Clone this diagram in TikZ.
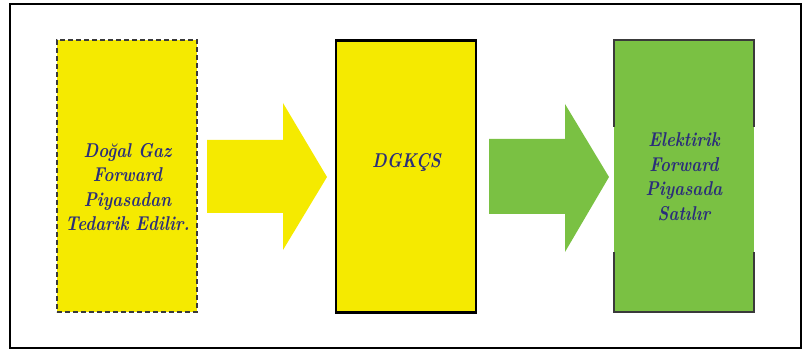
\documentclass[tikz,border=0pt]{standalone}
\usepackage{fontspec}
\usepackage{graphicx}
\usetikzlibrary{calc}
\definecolor{boxyellow}{HTML}{F5EA00}
\definecolor{boxgreen}{HTML}{7AC143}
\definecolor{txtblue}{HTML}{2B2E7A}
\definecolor{edgegray}{HTML}{3A3A3A}
\newcommand{\lbltext}[1]{\scalebox{0.84}[1]{\begin{tabular}{@{}c@{}}#1\end{tabular}}}
\begin{document}
\begin{tikzpicture}[x=1pt,y=-1pt,
  lbl/.style={font=\fontsize{20}{24.5}\selectfont\bfseries\itshape, text=txtblue, align=center, inner sep=0pt},
  stagebox/.style={minimum width=140pt, minimum height=272pt, inner sep=0pt},
  gedge/.style={draw=edgegray, line width=2pt}
]
\useasboundingbox (0,0) rectangle (807,350);
% outer frame
\draw[line width=2pt] (10,4) rectangle (801,348);
% boxes
\node[stagebox, fill=boxyellow, draw=edgegray, line width=2pt, dash pattern=on 5pt off 3pt] (src) at (126.5,176) {};
\node[stagebox, fill=boxyellow, draw=black, line width=2.4pt] (mid) at (406,176.5) {};
\node[stagebox, fill=boxgreen] (dst) at (684,176) {};
\draw[gedge] ($(dst.north west)+(0,87)$) -- (dst.north west) -- (dst.north east) -- ($(dst.north east)+(0,87)$);
\draw[gedge] ($(dst.south west)+(0,-60)$) -- (dst.south west) -- (dst.south east) -- ($(dst.south east)+(0,-60)$);
% arrows
\fill[boxyellow] (207,140) -- (283,140) -- (283,103) -- (327,177) -- (283,250) -- (283,213) -- (207,213) -- cycle;
\fill[boxgreen] (489,139) -- (565,139) -- (565,104) -- (609,177) -- (565,252) -- (565,214) -- (489,214) -- cycle;
% labels
\node[lbl] (srctxt) at (127.5,189) {\lbltext{Doğal Gaz\\Forward\\Piyasadan\\Tedarik Edilir.}};
\node[lbl] (midtxt) at (406.5,163) {\lbltext{DGKÇS}};
\node[lbl] (dsttxt) at (684,178.5) {\lbltext{Elektirik\\Forward\\Piyasada\\Satılır}};
\end{tikzpicture}
\end{document}
